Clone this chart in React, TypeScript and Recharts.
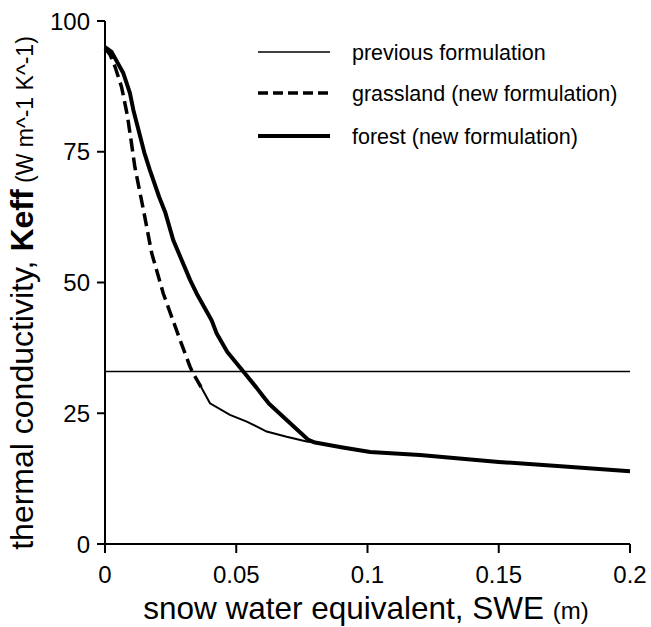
import React from "react";
import { LineChart, Line, XAxis, YAxis, Label, Customized } from "recharts";

// ---- data ----
const xTicks = [0, 0.05, 0.1, 0.15, 0.2];
const yTicks = [0, 25, 50, 75, 100];

const prevSwe = [0, 0.2];
const prevK = [33, 33];

const grassSwe = [0, 0.002, 0.0038, 0.0063, 0.0085, 0.0101, 0.0114, 0.0146, 0.0178, 0.0222, 0.0286, 0.0324, 0.0336, 0.0366, 0.04, 0.0476, 0.054, 0.0616, 0.0692, 0.0768, 0.08, 0.09, 0.101, 0.12, 0.15, 0.175, 0.2];
const grassK = [94.8, 93.5, 91.3, 87.4, 82.0, 76.6, 72.0, 64.0, 55.6, 47.9, 39.0, 33.9, 32.6, 30.0, 26.9, 24.7, 23.4, 21.5, 20.5, 19.6, 19.4, 18.5, 17.6, 17.0, 15.7, 14.8, 13.9];
const grassDashEnd = 13; // index where the dashed part ends and the thin solid part begins

const forestSwe = [0, 0.0025, 0.007, 0.0095, 0.0108, 0.015, 0.0171, 0.0206, 0.0229, 0.026, 0.0324, 0.0349, 0.0406, 0.0425, 0.0466, 0.0527, 0.0577, 0.0603, 0.0625, 0.0692, 0.0775, 0.08, 0.09, 0.101, 0.12, 0.15, 0.175, 0.2];
const forestK = [95.0, 94.1, 90.0, 86.2, 83.0, 74.8, 71.5, 66.4, 63.5, 58.1, 50.5, 47.9, 42.8, 40.3, 36.7, 33.0, 29.9, 28.2, 26.8, 23.7, 19.9, 19.4, 18.5, 17.6, 17.0, 15.7, 14.8, 13.9];

const legendLabels = ["previous formulation", "grassland (new formulation)", "forest (new formulation)"];

const toRows = (xs: number[], ys: number[]) => xs.map((x, i) => ({ swe: x, k: ys[i] }));

const prevData = toRows(prevSwe, prevK);
const grassAll = toRows(grassSwe, grassK);
const grassDashData = grassAll.slice(0, grassDashEnd + 1);
const grassThinData = grassAll.slice(grassDashEnd);
const forestData = toRows(forestSwe, forestK);

const FONT = "'Liberation Sans', Arial, Helvetica, sans-serif";

const LegendBox = () => {
  const rows = [
    { y: 52, w: 1.5, dash: undefined as string | undefined },
    { y: 93, w: 3.5, dash: "10 5" },
    { y: 136, w: 4, dash: undefined as string | undefined },
  ];
  return (
    <g>
      {rows.map((r, i) => (
        <g key={i}>
          <line x1={258} x2={330} y1={r.y} y2={r.y} stroke="#000" strokeWidth={r.w} strokeDasharray={r.dash} />
          <text x={352} y={r.y + 8} fontFamily={FONT} fontSize={21.5} fill="#000">
            {legendLabels[i]}
          </text>
        </g>
      ))}
    </g>
  );
};

const YTitle = (props: any) => {
  const cy = 293;
  const cx = 33;
  return (
    <text
      x={cx}
      y={cy}
      transform={`rotate(-90, ${cx}, ${cy})`}
      textAnchor="middle"
      fontFamily={FONT}
      fill="#000"
      fontSize={32}
    >
      <tspan>thermal conductivity, </tspan>
      <tspan fontWeight="bold">Keff</tspan>
      <tspan fontSize={23}> (W m^-1 K^-1)</tspan>
    </text>
  );
};

const XTitle = (props: any) => {
  return (
    <text x={366} y={619} textAnchor="middle" fontFamily={FONT} fill="#000" fontSize={31.5}>
      <tspan>snow water equivalent, SWE </tspan>
      <tspan fontSize={24}>(m)</tspan>
    </text>
  );
};

export default function App() {
  const tickStyle = { fill: "#000", fontSize: 24, fontFamily: FONT };
  return (
    <div style={{ position: "absolute", left: 0, top: 0, background: "#fff" }}>
      <LineChart width={651} height={627} margin={{ top: 21, right: 21, bottom: 0, left: 0 }}>
        <XAxis
          dataKey="swe"
          type="number"
          domain={[0, 0.2]}
          ticks={xTicks}
          height={83}
          tickSize={9}
          tickMargin={13}
          tick={tickStyle}
          stroke="#000"
          axisLine={{ stroke: "#000", strokeWidth: 2 }}
          tickLine={{ stroke: "#000", strokeWidth: 2 }}
          interval={0}
        >
          <Label content={<XTitle />} />
        </XAxis>
        <XAxis
          xAxisId="top"
          orientation="top"
          type="number"
          domain={[0, 0.2]}
          height={0}
          tick={false}
          tickLine={false}
          axisLine={{ stroke: "#000", strokeWidth: 1.5 }}
        />
        <YAxis
          type="number"
          domain={[0, 100]}
          ticks={yTicks}
          width={105}
          tickSize={8}
          tickMargin={7}
          tick={tickStyle}
          axisLine={{ stroke: "#000", strokeWidth: 2 }}
          tickLine={{ stroke: "#000", strokeWidth: 2 }}
          interval={0}
        >
          <Label content={<YTitle />} />
        </YAxis>
        <YAxis
          yAxisId="right"
          orientation="right"
          type="number"
          domain={[0, 100]}
          width={0}
          tick={false}
          tickLine={false}
          axisLine={{ stroke: "#000", strokeWidth: 1.5 }}
        />
        <Line data={prevData} dataKey="k" type="linear" stroke="#000" strokeWidth={1.5} dot={false} activeDot={false} isAnimationActive={false} />
        <Line data={grassThinData} dataKey="k" type="linear" stroke="#000" strokeWidth={2} dot={false} activeDot={false} isAnimationActive={false} />
        <Line data={grassDashData} dataKey="k" type="linear" stroke="#000" strokeWidth={3.5} strokeDasharray="13 6" dot={false} activeDot={false} isAnimationActive={false} />
        <Line data={forestData} dataKey="k" type="linear" stroke="#000" strokeWidth={4} strokeLinejoin="round" dot={false} activeDot={false} isAnimationActive={false} />
        <Customized component={LegendBox} />
      </LineChart>
    </div>
  );
}
